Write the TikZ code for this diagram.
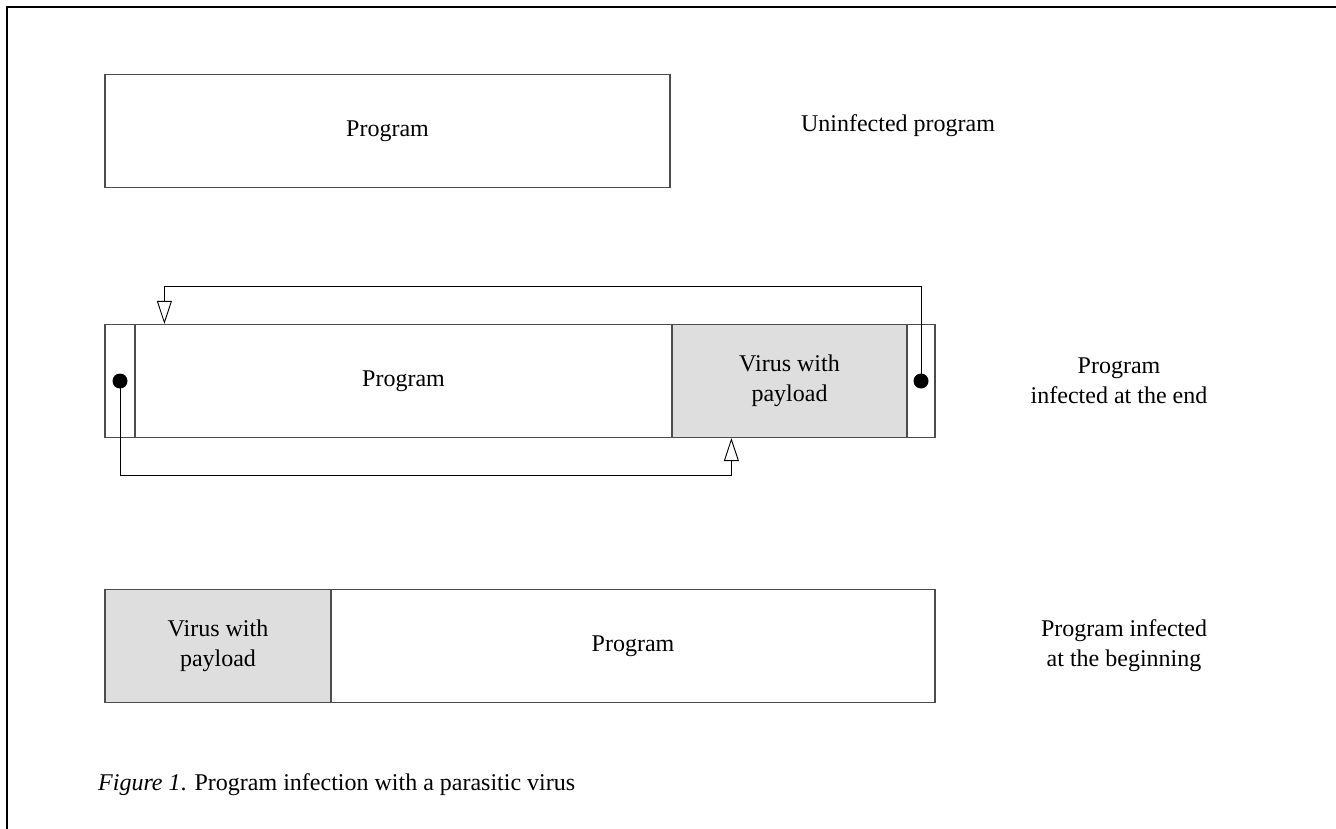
\documentclass[tikz,border=0pt]{standalone}
\usepackage{fontspec}
\setmainfont{Liberation Serif}
\usetikzlibrary{positioning,arrows.meta,calc}
\definecolor{virgray}{RGB}{222,222,222}

\begin{document}
\begin{tikzpicture}[x=1pt,y=-1pt,font=\fontsize{24}{30}\selectfont,
  blk/.style={draw=black!70,line width=1.2pt,minimum height=113pt,inner sep=0pt,align=center},
  vir/.style={blk,fill=virgray},
  dot/.style={circle,fill=black,inner sep=0pt,minimum size=15pt},
  flow/.style={-{Triangle[open,length=23pt,width=15pt]},line width=0.9pt},
  lbl/.style={align=center,inner sep=0pt}]
\useasboundingbox (0,0) rectangle (1336,829);
\draw[line width=1.3pt] (7,829) -- (7,7) -- (1336,7);
% uninfected
\node[blk,minimum width=565pt] (prog1) at (387.5,131) {Program};
\node[lbl] (lab1) at (898,126) {Uninfected program};
% infected at the end
\node[blk,minimum width=30pt] (stubL) at (120,381) {};
\node[blk,minimum width=537pt] (prog2) at (403.5,381) {Program};
\node[vir,minimum width=235pt] (vir2) at (789.5,381) {Virus with\\payload};
\node[blk,minimum width=28pt] (stubR) at (921,381) {};
\node[lbl] (lab2) at (1119,381) {Program\\infected at the end};
\coordinate (inT) at ($(prog2.north west)+(30,0)$);
\coordinate (inB) at ($(vir2.south west)+(60,0)$);
\draw[flow] (stubR.center) |- ($(inT)+(0,-37)$) -- (inT);
\draw[flow] (stubL.center) |- ($(inB)+(0,37)$) -- (inB);
\node[dot] (dotL) at (stubL) {};
\node[dot] (dotR) at (stubR) {};
% infected at the beginning
\node[vir,minimum width=226pt] (vir3) at (218,646) {Virus with\\payload};
\node[blk,minimum width=604pt] (prog3) at (633,646) {Program};
\node[lbl] (lab3) at (1124,646) {Program infected\\at the beginning};
\node[anchor=base west,inner sep=0pt] (cap) at (98,790) {\textit{Figure 1}. Program infection with a parasitic virus};
\end{tikzpicture}
\end{document}
